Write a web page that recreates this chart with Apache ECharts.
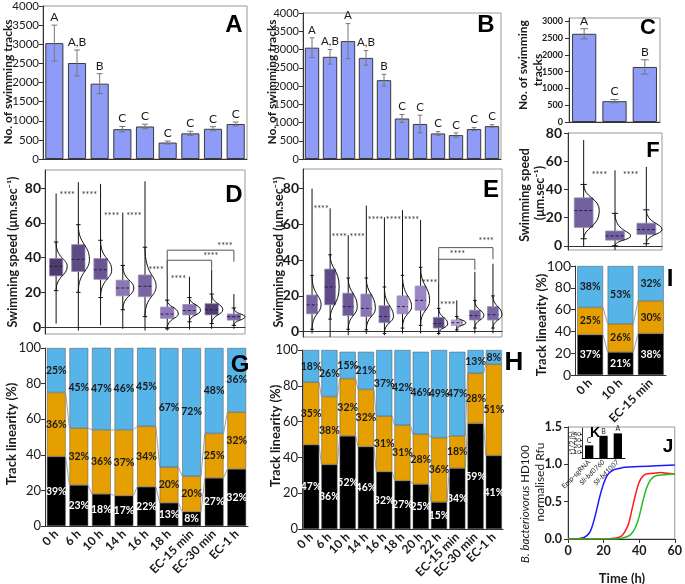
<!DOCTYPE html>
<html>
<head>
<meta charset="utf-8">
<script src="https://cdn.jsdelivr.net/npm/echarts@6/dist/echarts.min.js"></script>
<style>
html, body { margin: 0; padding: 0; background: #fff; }
#main { width: 685px; height: 584px; }
</style>
</head>
<body>
<div id="main"></div>
<script>
'use strict'

// ---- categories
const catsA = ['0 h', '6 h', '10 h', '14 h', '16 h', '18 h', 'EC-15 min', 'EC-30 min', 'EC-1 h'];
const catsB = ['0 h', '6 h', '10 h', '14 h', '16 h', '18 h', '20 h', '22 h', 'EC-15 min', 'EC-30 min', 'EC-1 h'];
const catsC = ['0 h', '10 h', 'EC-15 min'];
const catsK = ['Emp-sgRNA', 'Sli-bd0760', 'Sli-bd1007'];

// ---- swimming tracks (A, B, C): mean, error, letters
const tracksA = [3030, 2510, 1970, 780, 850, 430, 670, 790, 915];
const tracksAErr = [470, 340, 260, 70, 60, 40, 55, 55, 50];
const lettersA = ['A', 'A,B', 'B', 'C', 'C', 'C', 'C', 'C', 'C'];
const tracksB = [3050, 2800, 3230, 2770, 2160, 1110, 960, 700, 655, 820, 900];
const tracksBErr = [270, 200, 480, 200, 160, 110, 240, 50, 60, 40, 40];
const lettersB = ['A', 'A,B', 'A', 'A,B', 'B', 'C', 'C', 'C', 'C', 'C', 'C'];
const tracksC = [2630, 620, 1640];
const tracksCErr = [150, 50, 215];
const lettersC = ['A', 'C', 'B'];

// ---- swimming speed (D, E, F): [min, low whisker, q1, median, q3, high whisker, max]
const speedD = [
  [2, 21, 29.5, 35, 39.5, 49, 77],
  [-2, 20, 32, 39, 47.5, 59, 83.5],
  [1, 17, 27.5, 33, 39.5, 50, 82.5],
  [-1, 10, 18, 22.5, 27, 35.5, 66],
  [-2, 6, 17.5, 23.5, 30, 46, 84],
  [-2, -1, 5, 7.5, 11.5, 15.5, 30],
  [-1.5, 3, 7, 9.5, 13, 17, 29],
  [-1, 2, 7, 10, 13.5, 19, 33],
  [-1, 1, 4, 6, 7.5, 11, 19]
];
const speedE = [
  [-1, 1.3, 10, 15, 20.5, 31.5, 80],
  [-3, 7, 15, 25, 35, 43, 69],
  [-2, 1.3, 9, 14, 21.5, 30, 54],
  [-1.3, 1, 8.5, 13, 21, 30, 70.5],
  [-2, -1, 5, 8.5, 14.5, 25, 64],
  [-1, 2, 10, 14, 20, 31.5, 68],
  [-1, 3.5, 12, 17.5, 25.5, 36, 62.5],
  [-2, -1, 2, 4.5, 8, 13, 28],
  [0, 1, 3.5, 5, 6.5, 8.5, 17.5],
  [-1, 2, 6.5, 9, 12, 17.5, 33.5],
  [-1, 2, 6.5, 9.5, 14, 20, 38]
];
const speedF = [
  [-0.5, 5, 13, 25, 34, 43.5, 75],
  [-3, 0, 4, 7, 10.5, 23, 53.5],
  [-0.5, 1.5, 8, 11.5, 16, 25.5, 56]
];
const boxColorsD = ['#4e3c6e', '#5f4b84', '#6a5592', '#8c77b3', '#7a65a3', '#8f7bbb', '#8873b3', '#4f3d70', '#7a64a7'];
const boxColorsE = ['#7762a3', '#5e4a86', '#6e5998', '#8a75b4', '#6c5796', '#a08cc9', '#9a86c6', '#5b4881', '#b8a6df', '#7661a1', '#7a65a6'];
const boxColorsF = ['#73609f', '#73609f', '#73609f'];

// significance: [from, to, y]
const starsD = [[0, 1, 76], [1, 2, 76], [2, 3, 64], [3, 4, 64], [4, 5, 33], [5, 6, 27.5]];
const starsE = [[0, 1, 68.5], [1, 2, 53], [2, 3, 53], [3, 4, 62.5], [4, 5, 62.5], [5, 6, 62.5], [6, 7, 27], [7, 8, 15]];
const starsF = [[0, 1, 50], [1, 2, 50]];
// brackets: [from, to, line y, drop y, stars x, stars y]
const bracketsD = [[5, 8, 44.3, 37.6, 7.6, 46.5], [5, 7, 38.5, 33, 6.96, 40.8]];
const bracketsE = [[7, 10, 47, 40.5, 9.63, 50.5], [7, 9, 40.5, 34.5, 8.04, 43.5]];

// ---- track linearity (G, H, I): black, orange, blue (%)
const linBlackG = [39, 23, 18, 17, 22, 13, 8, 27, 32];
const linOrangeG = [36, 32, 36, 37, 34, 20, 20, 25, 32];
const linBlueG = [25, 45, 47, 46, 45, 67, 72, 48, 36];
const linBlackH = [47, 36, 52, 46, 32, 27, 25, 15, 34, 59, 41];
const linOrangeH = [35, 38, 32, 32, 31, 31, 28, 36, 18, 28, 51];
const linBlueH = [18, 26, 15, 21, 37, 42, 46, 49, 47, 13, 8];
const linBlackI = [37, 21, 38];
const linOrangeI = [25, 26, 30];
const linBlueI = [38, 53, 32];

// ---- J: normalised Rfu over time [h, value]
const rfuEmp = [[0, 0], [6, 0.005], [9, 0.02], [12, 0.08], [14, 0.2], [16, 0.38], [18, 0.58], [20, 0.74], [22, 0.85], [24, 0.9], [26, 0.93], [28, 0.94], [32, 0.96], [40, 0.97], [50, 0.98], [60, 0.99]];
const rfu0760 = [[0, 0], [20, 0], [26, 0.01], [30, 0.04], [32, 0.1], [34, 0.2], [36, 0.4], [38, 0.6], [40, 0.76], [42, 0.84], [44, 0.87], [48, 0.88], [52, 0.89], [56, 0.88], [60, 0.87]];
const rfu1007 = [[0, 0], [26, 0], [30, 0.01], [34, 0.04], [36, 0.08], [38, 0.16], [40, 0.3], [42, 0.5], [44, 0.67], [46, 0.78], [48, 0.83], [50, 0.85], [54, 0.86], [58, 0.87], [60, 0.87]];
// ---- K: t1/2 (h)
const halfTimeK = [21, 37, 41];
const lettersK = ['C', 'B', 'A'];

// ---- tick labels for the narrow right-hand panels
const ticksC = [0, 500, 1000, 1500, 2000, 2500, 3000];
const ticksF = [0, 20, 40, 60, 80];
const ticksJ = [0, 0.5, 1, 1.5];

const FONT = 'Lato, "Liberation Sans", sans-serif';
const TXT = '#1a1a1a';

var myChart = echarts.init(document.getElementById('main'));

// grid order: A B C D E F G H I J K
const grids = [
  { left: 43, top: 5, width: 204, height: 154 },
  { left: 303, top: 13, width: 198, height: 146 },
  { left: 569, top: 18, width: 91, height: 104 },
  { left: 45, top: 170, width: 200, height: 164 },
  { left: 303, top: 169, width: 199, height: 168 },
  { left: 568, top: 133, width: 94, height: 117 },
  { left: 45, top: 348, width: 203, height: 178 },
  { left: 302, top: 350, width: 201, height: 179 },
  { left: 575, top: 266, width: 91, height: 109 },
  { left: 568, top: 427, width: 109, height: 112 },
  { left: 582, top: 428, width: 43, height: 30 }
].map((g, i) => Object.assign({
  show: [0, 1, 2, 3, 4, 5, 9].includes(i),
  borderColor: '#999', borderWidth: 1, backgroundColor: 'transparent'
}, g));

function catAxis(gi, cats, showLabels, labelSize) {
  return {
    type: 'category', gridIndex: gi, data: cats,
    axisLine: { lineStyle: { color: '#333' } },
    axisTick: { alignWithLabel: true, length: 4, lineStyle: { color: '#333' } },
    axisLabel: {
      show: showLabels, rotate: 45, interval: 0, margin: 6,
      fontSize: labelSize || 12, fontWeight: 'bold', color: TXT, fontFamily: FONT
    }
  };
}

// labels only where the value is a multiple of step
function valAxis(gi, min, max, step, labelSize, bold) {
  return {
    type: 'value', gridIndex: gi, min: min, max: max,
    splitLine: { show: false },
    axisLine: { show: true, lineStyle: { color: '#333' } },
    axisTick: { show: true, length: 4, lineStyle: { color: '#333' } },
    axisLabel: {
      show: true, fontSize: labelSize, fontWeight: bold ? 'bold' : 'normal', color: TXT,
      fontFamily: FONT, margin: 4,
      formatter: v => (Math.abs(v / step - Math.round(v / step)) < 1e-6 ? String(v) : '')
    }
  };
}

// x position of a fractional category value
function catPoint(api, v, y) {
  const a = Math.floor(v), b = Math.ceil(v);
  const pa = api.coord([a, y]), pb = api.coord([b, y]);
  return [pa[0] + (pb[0] - pa[0]) * (v - a), pa[1]];
}

function barSeries(gi, vals) {
  return {
    type: 'bar', xAxisIndex: gi, yAxisIndex: gi, data: vals, barWidth: '80%',
    itemStyle: { color: '#8f9cf7', borderColor: '#3a3a3a', borderWidth: 1 }
  };
}

function errorSeries(gi, vals, errs, letters, letterSize) {
  return {
    type: 'custom', xAxisIndex: gi, yAxisIndex: gi, z: 5,
    data: vals.map((v, i) => [i, v, errs[i]]),
    renderItem: function (params, api) {
      const i = api.value(0), v = api.value(1), e = api.value(2);
      const hi = api.coord([i, v + e]);
      const lo = api.coord([i, v - e]);
      const hw = api.size([1, 0])[0] * 0.13;
      const st = { stroke: '#777', lineWidth: 1 };
      return {
        type: 'group', children: [
          { type: 'line', shape: { x1: hi[0], y1: hi[1], x2: lo[0], y2: lo[1] }, style: st },
          { type: 'line', shape: { x1: hi[0] - hw, y1: hi[1], x2: hi[0] + hw, y2: hi[1] }, style: st },
          { type: 'line', shape: { x1: lo[0] - hw, y1: lo[1], x2: lo[0] + hw, y2: lo[1] }, style: st },
          {
            type: 'text', x: hi[0], y: hi[1] - 2,
            style: {
              text: letters[params.dataIndex], align: 'center', verticalAlign: 'bottom',
              fontSize: letterSize, fontFamily: FONT, fill: TXT
            }
          }
        ]
      };
    }
  };
}

function boxSeries(gi, stats, colors) {
  return {
    type: 'custom', xAxisIndex: gi, yAxisIndex: gi, z: 4,
    data: stats.map((s, i) => [i].concat(s)),
    renderItem: function (params, api) {
      const i = api.value(0);
      const mn = api.value(1), lc = api.value(2), q1 = api.value(3), md = api.value(4),
        q3 = api.value(5), hc = api.value(6), mx = api.value(7);
      const band = api.size([1, 0])[0];
      const x = api.coord([i, md])[0];
      const y = (v) => api.coord([i, v])[1];
      const bw = band * 0.3, cap = band * 0.1, bulge = band * 0.5;
      const ln = { stroke: '#111', lineWidth: 1 };
      const path = 'M' + x + ' ' + y(lc) +
        ' C' + x + ' ' + y(q1) + ' ' + (x + bulge) + ' ' + y(q1) + ' ' + (x + bulge) + ' ' + y(md) +
        ' C' + (x + bulge) + ' ' + y(q3) + ' ' + x + ' ' + y(q3) + ' ' + x + ' ' + y(hc);
      return {
        type: 'group', children: [
          { type: 'line', shape: { x1: x, y1: y(mn), x2: x, y2: y(mx) }, style: ln },
          { type: 'line', shape: { x1: x - cap, y1: y(lc), x2: x + cap, y2: y(lc) }, style: ln },
          { type: 'line', shape: { x1: x - cap, y1: y(hc), x2: x + cap, y2: y(hc) }, style: ln },
          {
            type: 'rect', shape: { x: x - bw, y: y(q3), width: bw * 2, height: y(q1) - y(q3) },
            style: { fill: colors[params.dataIndex], stroke: '#9b8fb5', lineWidth: 0.8 }
          },
          {
            type: 'line', shape: { x1: x - bw, y1: y(md), x2: x + bw, y2: y(md) },
            style: { stroke: '#2a2040', lineWidth: 1, lineDash: [3, 2] }
          },
          { type: 'path', shape: { pathData: path }, style: { fill: 'none', stroke: '#111', lineWidth: 1 } }
        ]
      };
    }
  };
}

function starText(x, y) {
  return {
    type: 'text', x: x, y: y,
    style: { text: '****', align: 'center', verticalAlign: 'middle', fontSize: 9, fontFamily: FONT, fill: '#333' }
  };
}

function starSeries(gi, pairs) {
  return {
    type: 'custom', xAxisIndex: gi, yAxisIndex: gi, z: 6,
    data: pairs,
    renderItem: function (params, api) {
      const pr = pairs[params.dataIndex];
      const p = catPoint(api, (pr[0] + pr[1]) / 2, pr[2]);
      return starText(p[0], p[1]);
    }
  };
}

function bracketSeries(gi, brackets, stats) {
  return {
    type: 'custom', xAxisIndex: gi, yAxisIndex: gi, z: 6,
    data: brackets,
    renderItem: function (params, api) {
      const br = brackets[params.dataIndex];
      const a = br[0], b = br[1];
      const pA0 = api.coord([a, stats[a][6]]), pA1 = api.coord([a, br[2]]);
      const pB1 = api.coord([b, br[2]]), pB0 = api.coord([b, br[3]]);
      const s = catPoint(api, br[4], br[5]);
      return {
        type: 'group', children: [
          {
            type: 'polyline',
            shape: { points: [[pA0[0], pA0[1]], [pA1[0], pA1[1]], [pB1[0], pB1[1]], [pB0[0], pB0[1]]] },
            style: { fill: 'none', stroke: '#555', lineWidth: 1 }
          },
          starText(s[0], s[1])
        ]
      };
    }
  };
}

function stackSeries(gi, id, black, orange, blue, frac) {
  const cols = ['#000000', '#e69f00', '#56b4e9'];
  const list = [black, orange, blue].map((vals, k) => ({
    type: 'bar', xAxisIndex: gi, yAxisIndex: gi, stack: id, data: vals,
    barWidth: (frac * 100) + '%',
    itemStyle: { color: cols[k], borderColor: '#555', borderWidth: 0.5 },
    label: {
      show: true, position: 'inside', formatter: '{c}%',
      color: k === 0 ? '#fff' : '#1a1a1a', fontSize: 10.5, fontWeight: 'bold', fontFamily: FONT
    }
  }));
  // thin connectors between neighbouring bars at the stack boundaries
  list.push({
    type: 'custom', xAxisIndex: gi, yAxisIndex: gi, z: 3,
    data: black.slice(0, -1).map((v, i) => [i]),
    renderItem: function (params, api) {
      const i = params.dataIndex;
      const hw = api.size([1, 0])[0] * frac / 2;
      const levels = [black, black.map((v, j) => v + orange[j])];
      return {
        type: 'group',
        children: levels.map(cum => {
          const p = api.coord([i, cum[i]]), q = api.coord([i + 1, cum[i + 1]]);
          return { type: 'line', shape: { x1: p[0] + hw, y1: p[1], x2: q[0] - hw, y2: q[1] }, style: { stroke: '#888', lineWidth: 0.8 } };
        })
      };
    }
  });
  return list;
}

function vText(text, x, y, size, weight, rich) {
  return {
    type: 'text', x: x, y: y, rotation: Math.PI / 2, z: 10,
    style: {
      text: text, align: 'center', verticalAlign: 'middle', fontSize: size,
      fontWeight: weight || 'bold', fontFamily: FONT, fill: TXT, rich: rich
    }
  };
}

function tag(text, x, y, size) {
  return {
    type: 'text', x: x, y: y, z: 10,
    style: {
      text: text, align: 'center', verticalAlign: 'middle', fontSize: size,
      fontWeight: 'bold', fontFamily: '"Liberation Sans", Arial, sans-serif', fill: '#000'
    }
  };
}

const xAxes = [
  catAxis(0, catsA, false),
  catAxis(1, catsB, false),
  catAxis(2, catsC, false),
  catAxis(3, catsA, false),
  catAxis(4, catsB, false),
  catAxis(5, catsC, false),
  catAxis(6, catsA, true, 12),
  catAxis(7, catsB, true, 12),
  catAxis(8, catsC, true, 12),
  {
    type: 'value', gridIndex: 9, min: 0, max: 60, interval: 20,
    splitLine: { show: false },
    axisLine: { lineStyle: { color: '#333' } },
    axisTick: { length: 4, lineStyle: { color: '#333' } },
    axisLabel: { fontSize: 12.5, fontWeight: 'bold', color: TXT, fontFamily: FONT, margin: 5 }
  },
  {
    type: 'category', gridIndex: 10, data: catsK,
    axisLine: { lineStyle: { color: '#111' } },
    axisTick: { show: false },
    axisLabel: {
      rotate: 45, interval: 0, margin: 3, fontSize: 7, color: TXT, fontFamily: FONT,
      formatter: v => v.indexOf('Sli') === 0 ? '{it|' + v + '}' : v,
      rich: { it: { fontStyle: 'italic', fontSize: 7, fontFamily: FONT, color: TXT } }
    }
  }
];

const yAxes = [
  valAxis(0, 0, 4000, 500, 11.5, false),
  valAxis(1, 0, 4000, 500, 11, false),
  valAxis(2, 0, 3100, 500, 9, true),
  valAxis(3, -4, 90.5, 20, 14, true),
  valAxis(4, -3, 91, 20, 14, true),
  valAxis(5, -3, 80, 20, 14, true),
  valAxis(6, 0, 100, 20, 13, false),
  valAxis(7, 0, 100, 20, 13, false),
  valAxis(8, 0, 100, 20, 14, false),
  valAxis(9, 0, 1.5, 0.5, 12.5, true),
  valAxis(10, 0, 50, 10, 6.5, false)
];
yAxes[0].interval = 500;
yAxes[1].interval = 500;
[6, 7, 8].forEach(i => { yAxes[i].interval = 20; });
yAxes[9].interval = 0.5;
yAxes[10].interval = 10;
// panels that reach below zero, or stop between ticks: fixed tick places
[3, 4].forEach(i => {
  yAxes[i].axisTick.customValues = ticksF;
  yAxes[i].axisLabel.customValues = ticksF;
});
yAxes[2].axisTick.customValues = ticksC;
yAxes[5].axisTick.customValues = ticksF;
// these three get their labels as graphic text, placed through the axis scale below
[2, 5, 9].forEach(i => { yAxes[i].axisLabel.show = false; });
yAxes[10].axisLabel.margin = 1;
yAxes[10].axisTick.length = 2;

const series = [
  barSeries(0, tracksA), errorSeries(0, tracksA, tracksAErr, lettersA, 12),
  barSeries(1, tracksB), errorSeries(1, tracksB, tracksBErr, lettersB, 11.5),
  barSeries(2, tracksC), errorSeries(2, tracksC, tracksCErr, lettersC, 12),
  boxSeries(3, speedD, boxColorsD), starSeries(3, starsD), bracketSeries(3, bracketsD, speedD),
  boxSeries(4, speedE, boxColorsE), starSeries(4, starsE), bracketSeries(4, bracketsE, speedE),
  boxSeries(5, speedF, boxColorsF), starSeries(5, starsF)
]
  .concat(stackSeries(6, 'g', linBlackG, linOrangeG, linBlueG, 0.83))
  .concat(stackSeries(7, 'h', linBlackH, linOrangeH, linBlueH, 0.88))
  .concat(stackSeries(8, 'i', linBlackI, linOrangeI, linBlueI, 0.85))
  .concat([
    { type: 'line', xAxisIndex: 9, yAxisIndex: 9, data: rfuEmp, smooth: 0.4, showSymbol: false, lineStyle: { color: '#1a1aff', width: 1.5 } },
    { type: 'line', xAxisIndex: 9, yAxisIndex: 9, data: rfu0760, smooth: 0.4, showSymbol: false, lineStyle: { color: '#ff1a1a', width: 1.5 } },
    { type: 'line', xAxisIndex: 9, yAxisIndex: 9, data: rfu1007, smooth: 0.4, showSymbol: false, lineStyle: { color: '#22bb22', width: 1.5 } },
    {
      type: 'bar', xAxisIndex: 10, yAxisIndex: 10, data: halfTimeK, barWidth: '58%',
      itemStyle: { color: '#000' },
      label: {
        show: true, position: 'top', distance: 1, fontSize: 7, color: TXT, fontFamily: FONT,
        formatter: p => lettersK[p.dataIndex]
      }
    }
  ]);

const texts = [
  vText('No. of swimming tracks', 8, 82, 12),
  vText('No. of swimming tracks', 272, 82, 12),
  vText('No. of swimming', 523, 65, 12),
  vText('tracks', 538, 70, 12),
  vText('Swimming speed (\u03bcm.sec\u207b\u00b9)', 13, 252, 12.5),
  vText('Swimming speed (\u03bcm.sec\u207b\u00b9)', 279, 252, 12.5),
  vText('Swimming speed', 525, 195, 12.5),
  vText('(\u03bcm.sec\u207b\u00b9)', 540, 193, 12.5),
  vText('Track linearity (%)', 12, 434, 13),
  vText('Track linearity (%)', 276, 436, 13),
  vText('Track linearity (%)', 542, 325, 13),
  vText('{it|B. bacteriovorus} HD100', 525, 504, 11.5, 'normal', { it: { fontStyle: 'italic', fontSize: 11.5, fontFamily: FONT, fill: TXT } }),
  vText('normalised Rfu', 540, 482, 12, 'normal'),
  vText('t1/2 (h)', 573, 443, 7, 'normal'),
  {
    type: 'text', x: 622, y: 579, z: 10,
    style: { text: 'Time (h)', align: 'center', verticalAlign: 'middle', fontSize: 13, fontWeight: 'bold', fontFamily: FONT, fill: TXT }
  },
  tag('A', 234, 25, 24),
  tag('B', 486, 25, 24),
  tag('C', 648, 28, 22),
  tag('D', 234, 195, 24),
  tag('E', 491, 190, 24),
  tag('F', 653, 151, 22),
  tag('G', 240, 365, 24),
  tag('H', 514, 363, 26),
  tag('I', 670, 279, 24),
  tag('J', 668, 447, 19),
  tag('K', 595, 433, 14)
];

const option = {
  animation: false,
  backgroundColor: '#fff',
  textStyle: { fontFamily: FONT },
  grid: grids,
  xAxis: xAxes,
  yAxis: yAxes,
  series: series,
  graphic: { elements: texts }
};

myChart.setOption(option);

// y tick labels of C, F and J, positioned through each panel's y scale
const tickTexts = [];
[[2, ticksC, 9, v => String(v)], [5, ticksF, 14, v => String(v)], [9, ticksJ, 12.5, v => v.toFixed(1)]]
  .forEach(function (t) {
    const ai = t[0];
    t[1].forEach(function (v) {
      const py = myChart.convertToPixel({ yAxisIndex: ai }, v);
      tickTexts.push({
        type: 'text', x: grids[ai].left - 6, y: py, z: 100,
        style: {
          text: t[3](v), align: 'right', verticalAlign: 'middle', fontSize: t[2],
          fontWeight: 'bold', fontFamily: FONT, fill: TXT
        }
      });
    });
  });
myChart.setOption({ graphic: { elements: texts.concat(tickTexts) } });
</script>
</body>
</html>
